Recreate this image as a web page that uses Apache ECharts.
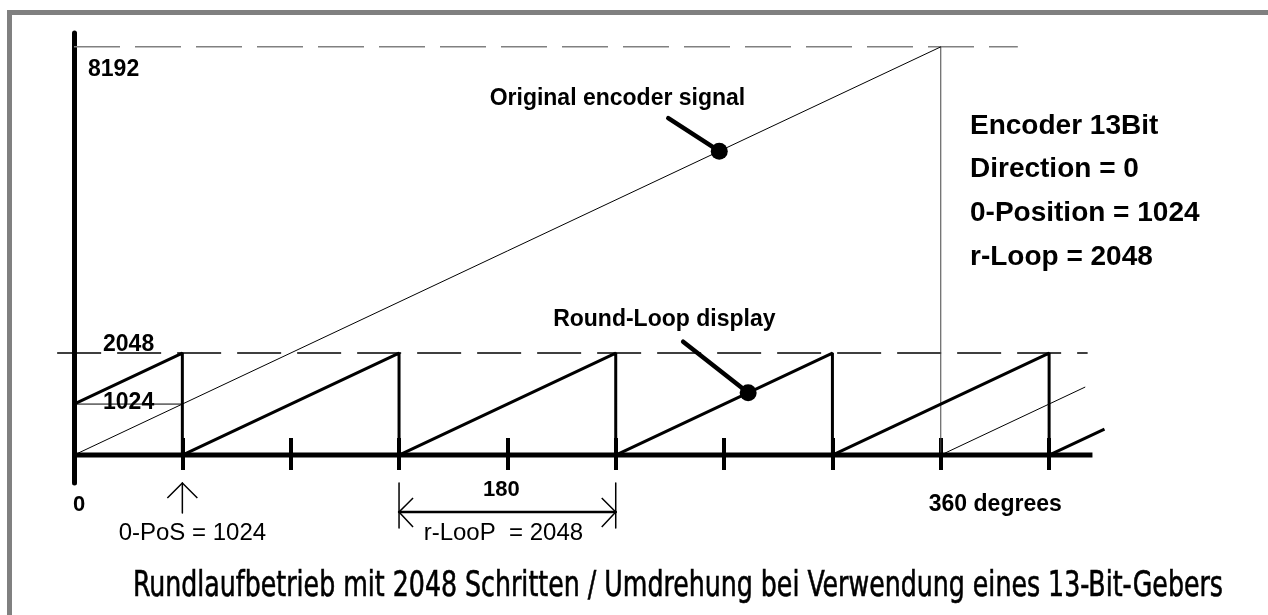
<!DOCTYPE html>
<html>
<head>
<meta charset="utf-8">
<script src="https://cdn.jsdelivr.net/npm/echarts@6/dist/echarts.min.js"></script>
<style>
  html, body { margin: 0; padding: 0; background: #fff; }
  #chart { width: 1268px; height: 615px; }
</style>
</head>
<body>
<div id="chart"></div>
<script>
// 13 bit encoder: 8192 counts per revolution, round-loop 2048, zero position 1024
const signalDeg = [0, 360];
const signalCounts = [0, 8192];
const wrapDeg = [360, 420];
const wrapCounts = [0, 1366];
const loopDeg = [0, 45, 45, 135, 135, 225, 225, 315, 315, 405, 405, 428];
const loopCounts = [1024, 2048, 0, 2048, 0, 2048, 0, 2048, 0, 2048, 0, 523];
const tickDeg = [45, 90, 135, 180, 225, 270, 315, 360, 405];

// helper lines
const baseDeg = [0, 423];
const baseCounts = [0, 0];
const fullScaleDeg = [0, 392];
const fullScaleCounts = [8192, 8192];
const loopLimitDeg = [-7, 421];
const loopLimitCounts = [2048, 2048];
const zeroPosDeg = [0, 45];
const zeroPosCounts = [1024, 1024];
const revDeg = [360, 360];
const revCounts = [0, 8192];

// pointer dots
const signalDot = [268, 6098];
const loopDot = [280, 1252];

const infoLines = ['Encoder 13Bit', 'Direction = 0', '0-Position = 1024', 'r-Loop = 2048'];
const titleText = 'Rundlaufbetrieb mit 2048 Schritten / Umdrehung bei Verwendung eines 13-Bit-Gebers';

const ARIAL = '"Liberation Sans", Arial, sans-serif';
const NARROW = '"DejaVu Sans Condensed", "Liberation Sans", sans-serif';

const pairs = (xs, ys) => xs.map((x, i) => [x, ys[i]]);

const line = (data, style, extra) => Object.assign({
  type: 'line', data, symbol: 'none', clip: false, silent: true, z: 3,
  lineStyle: Object.assign({ color: '#000', width: 1 }, style)
}, extra || {});

const dot = (coord) => ({
  symbol: 'none',
  data: [{ coord, symbol: 'circle', symbolSize: 17 }],
  itemStyle: { color: '#000' },
  label: { show: false }
});

const chart = echarts.init(document.getElementById('chart'));

const xAxisBase = {
  type: 'value', min: -7, max: 429,
  axisLabel: { show: false },
  splitLine: { show: false }
};

chart.setOption({
  animation: false,
  grid: { left: 57.15, right: 161.1, top: 33, bottom: 132 },
  xAxis: [
    Object.assign({}, xAxisBase, {
      position: 'bottom',
      axisLine: { show: false, onZero: true },
      axisTick: { show: true, customValues: tickDeg, length: 15, lineStyle: { color: '#000', width: 4 } }
    }),
    Object.assign({}, xAxisBase, {
      position: 'top',
      axisLine: { show: false, onZero: true, onZeroAxisIndex: 0 },
      axisTick: { show: true, customValues: tickDeg, length: 17, lineStyle: { color: '#000', width: 4 } }
    })
  ],
  yAxis: {
    type: 'value', min: -560, max: 8470,
    axisLine: { show: true, onZero: true, lineStyle: { color: '#000', width: 5 } },
    axisTick: { show: false },
    axisLabel: { show: false },
    splitLine: { show: false }
  },
  series: [
    line(pairs(baseDeg, baseCounts), { width: 5 }, { z: 5 }),
    line(pairs(fullScaleDeg, fullScaleCounts), { color: '#808080', width: 1.5, type: [46, 15] }),
    line(pairs(loopLimitDeg, loopLimitCounts), { color: '#000', width: 1.5, type: [44, 16] }),
    line(pairs(zeroPosDeg, zeroPosCounts), { width: 1 }),
    line(pairs(revDeg, revCounts), { color: '#444', width: 1 }),
    line(pairs(signalDeg, signalCounts), { width: 1 }, { markPoint: dot(signalDot) }),
    line(pairs(wrapDeg, wrapCounts), { width: 1 }),
    line(pairs(loopDeg, loopCounts), { width: 3 }, { markPoint: dot(loopDot), z: 4 })
  ]
});

// annotations, anchored to the data coordinates
const px = (d, c) => chart.convertToPixel({ xAxisIndex: 0, yAxisIndex: 0 }, [d, c]);
const y0 = px(0, 0)[1];
const x0 = px(0, 0)[0];

const txt = (text, x, y, size, opts) => Object.assign({
  type: 'text', z: 100, silent: true,
  style: Object.assign({
    text, x, y, fill: '#000',
    font: (opts && opts.weight || 'bold') + ' ' + size + 'px ' + (opts && opts.family || ARIAL),
    textAlign: opts && opts.align || 'left',
    textVerticalAlign: 'middle'
  })
});
const seg = (x1, y1, x2, y2, w) => ({
  type: 'line', z: 100, silent: true,
  shape: { x1, y1, x2, y2 },
  style: { stroke: '#000', lineWidth: w, lineCap: 'round' }
});
const poly = (points, w) => ({
  type: 'polyline', z: 100, silent: true,
  shape: { points },
  style: { stroke: '#000', lineWidth: w, fill: null }
});

const g = [];
// frame
g.push({ type: 'rect', z: 0, shape: { x: 7, y: 10, width: 5, height: 605 }, style: { fill: '#808080' } });
g.push({ type: 'rect', z: 0, shape: { x: 7, y: 10, width: 1261, height: 5 }, style: { fill: '#808080' } });

// y labels
g.push(txt('8192', x0 + 14, px(0, 8192)[1] + 23, 23));
g.push(txt('2048', x0 + 29, px(0, 2048)[1] - 8, 23));
g.push(txt('1024', x0 + 29, px(0, 1024)[1] - 1, 23));

// pointers
const sd = px(signalDot[0], signalDot[1]);
g.push(seg(sd[0] - 51, sd[1] - 33, sd[0], sd[1], 4.5));
g.push(txt('Original encoder signal', sd[0] + 26, sd[1] - 53, 23, { align: 'right' }));
const ld = px(loopDot[0], loopDot[1]);
g.push(seg(ld[0] - 65, ld[1] - 51, ld[0], ld[1], 4.5));
g.push(txt('Round-Loop display', ld[0] - 195, ld[1] - 73, 23));

// info block
infoLines.forEach((t, i) => g.push(txt(t, 970, 126 + i * 43.7, 28)));

// x labels
g.push(txt('0', x0 - 1, y0 + 50, 22));
const x360 = px(360, 0)[0];
g.push(txt('360 degrees', x360 - 12, y0 + 50, 23));

// zero position arrow
const xz = px(45, 0)[0];
g.push(seg(xz, y0 + 28, xz, y0 + 58, 1.5));
g.push(poly([[xz - 15, y0 + 43], [xz, y0 + 28], [xz + 15, y0 + 43]], 1.5));
g.push(txt('0-PoS = 1024', xz + 10, y0 + 78, 24, { weight: 'normal', align: 'center' }));

// round loop dimension
const xa = px(135, 0)[0];
const xb = px(225, 0)[0];
const xm = (xa + xb) / 2;
g.push(seg(xa, y0 + 28, xa, y0 + 73, 1.5));
g.push(seg(xb, y0 + 28, xb, y0 + 73, 1.5));
g.push(seg(xa, y0 + 57, xb, y0 + 57, 2.5));
g.push(poly([[xa + 14, y0 + 43], [xa, y0 + 57], [xa + 14, y0 + 72]], 1.5));
g.push(poly([[xb - 14, y0 + 43], [xb, y0 + 57], [xb - 14, y0 + 72]], 1.5));
g.push(txt('180', xm - 6, y0 + 35, 22, { align: 'center' }));
g.push(txt('r-LooP  = 2048', xm - 4, y0 + 78, 24, { weight: 'normal', align: 'center' }));

// caption, squeezed to the width of the original condensed face
const titleFont = '36px ' + NARROW;
const ctx = document.createElement('canvas').getContext('2d');
ctx.font = titleFont;
const titleScale = 1090 / ctx.measureText(titleText).width;
g.push({
  type: 'text', z: 100, silent: true, x: 678, y: 587, scaleX: titleScale,
  style: {
    text: titleText, x: 0, y: 0, fill: '#000', stroke: '#000', lineWidth: 0.6,
    font: titleFont, textAlign: 'center', textVerticalAlign: 'middle'
  }
});

chart.setOption({ graphic: g });
</script>
</body>
</html>
